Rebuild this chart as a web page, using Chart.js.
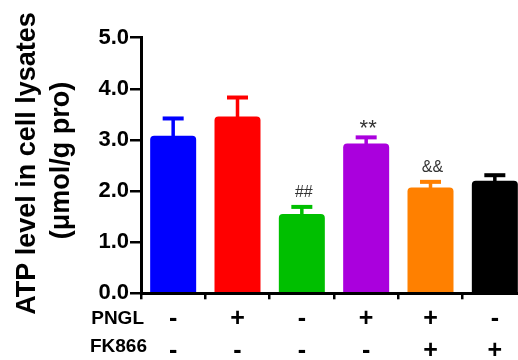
<!DOCTYPE html>
<html lang="en">
<head>
<meta charset="UTF-8">
<title>ATP level in cell lysates</title>
<style>
  html, body { margin: 0; padding: 0; overflow: hidden; background: #fff; }
  #wrap { width: 518px; height: 360px; overflow: hidden; }
</style>
<script src="https://cdn.jsdelivr.net/npm/chart.js"></script>
</head>
<body>
<div id="wrap"><canvas id="atpChart" width="527" height="360"></canvas></div>
<script>
// treatment rows under the x axis
const pngl = ['-', '+', '-', '+', '+', '-'];
const fk866 = ['-', '-', '-', '-', '+', '+'];
// ATP (umol/g pro), mean and upper error
const atpMean = [3.08, 3.46, 1.55, 2.93, 2.07, 2.20];
const atpErr = [0.34, 0.37, 0.14, 0.12, 0.11, 0.11];
// significance marks above bars
const marks = ['', '', '##', '**', '&&', ''];

const barColors = ['#0000ff', '#ff0000', '#00bf00', '#aa00dd', '#ff8000', '#000000'];
const FONT = "'Liberation Sans', Arial, sans-serif";

const extras = {
    id: 'extras',
    afterDatasetsDraw(chart) {
        const ctx = chart.ctx;
        const yScale = chart.scales.y;
        const bars = chart.getDatasetMeta(0).data;
        ctx.save();
        bars.forEach((bar, i) => {
            const top = yScale.getPixelForValue(atpMean[i] + atpErr[i]);
            ctx.fillStyle = barColors[i];
            ctx.fillRect(bar.x - 1.75, top, 3.5, bar.y - top + 2);
            ctx.fillRect(bar.x - 10.5, top - 2, 21, 4);
            if (marks[i]) {
                const star = marks[i].includes('*');
                ctx.fillStyle = '#333';
                ctx.textAlign = 'center';
                ctx.textBaseline = 'alphabetic';
                ctx.font = (star ? '22px ' : '16px ') + FONT;
                ctx.fillText(marks[i], bar.x + 2, star ? top - 2 : top - 10);
            }
        });
        ctx.restore();
    },
    afterDraw(chart) {
        const ctx = chart.ctx;
        const area = chart.chartArea;
        const cy = (area.top + area.bottom) / 2;
        ctx.save();
        ctx.fillStyle = '#000';
        ctx.font = 'bold 27px ' + FONT;
        ctx.textAlign = 'center';
        ctx.textBaseline = 'alphabetic';
        ctx.translate(35, cy - 2);
        ctx.rotate(-Math.PI / 2);
        ctx.fillText('ATP level in cell lysates', 0, 0);
        ctx.restore();

        ctx.save();
        ctx.fillStyle = '#000';
        ctx.font = 'bold 27px ' + FONT;
        ctx.textAlign = 'center';
        ctx.textBaseline = 'alphabetic';
        ctx.translate(69, cy - 5);
        ctx.rotate(-Math.PI / 2);
        ctx.fillText('(μmol/g pro)', 0, 0);
        ctx.restore();

        // row names for the treatment table
        ctx.save();
        ctx.fillStyle = '#000';
        ctx.font = 'bold 19px ' + FONT;
        ctx.textAlign = 'right';
        ctx.textBaseline = 'middle';
        ctx.fillText('PNGL', 144, 319);
        ctx.fillText('FK866', 147, 347);
        ctx.restore();
    }
};

new Chart(document.getElementById('atpChart'), {
    type: 'bar',
    data: {
        labels: pngl.map((p, i) => [p, fk866[i]]),
        datasets: [{
            data: atpMean,
            backgroundColor: barColors,
            borderRadius: { topLeft: 4, topRight: 4 },
            borderSkipped: 'start',
            barPercentage: 0.715,
            categoryPercentage: 1
        }]
    },
    options: {
        responsive: false,
        animation: false,
        layout: { padding: { top: 37.7, left: 0, right: 0, bottom: 0 } },
        plugins: {
            legend: { display: false },
            tooltip: { enabled: false }
        },
        scales: {
            x: {
                z: 1,
                grid: { drawOnChartArea: false, drawTicks: true, tickLength: 6, color: '#000', lineWidth: 2.5 },
                border: { display: true, color: '#000', width: 3 },
                ticks: {
                    color: '#000',
                    padding: 4,
                    font: { family: FONT, size: 25, weight: 'bold', lineHeight: 1.28 }
                },
                afterFit(scale) { scale.height = 66.7; }
            },
            y: {
                min: 0,
                max: 5,
                grid: { drawOnChartArea: false, drawTicks: true, tickLength: 11, color: '#000', lineWidth: 2.5 },
                border: { display: true, color: '#000', width: 3 },
                ticks: {
                    stepSize: 1,
                    color: '#000',
                    padding: 1,
                    font: { family: FONT, size: 22, weight: 'bold' },
                    callback: v => v.toFixed(1)
                },
                afterFit(scale) { scale.width = 141; }
            }
        }
    },
    plugins: [extras]
});
</script>
</body>
</html>
